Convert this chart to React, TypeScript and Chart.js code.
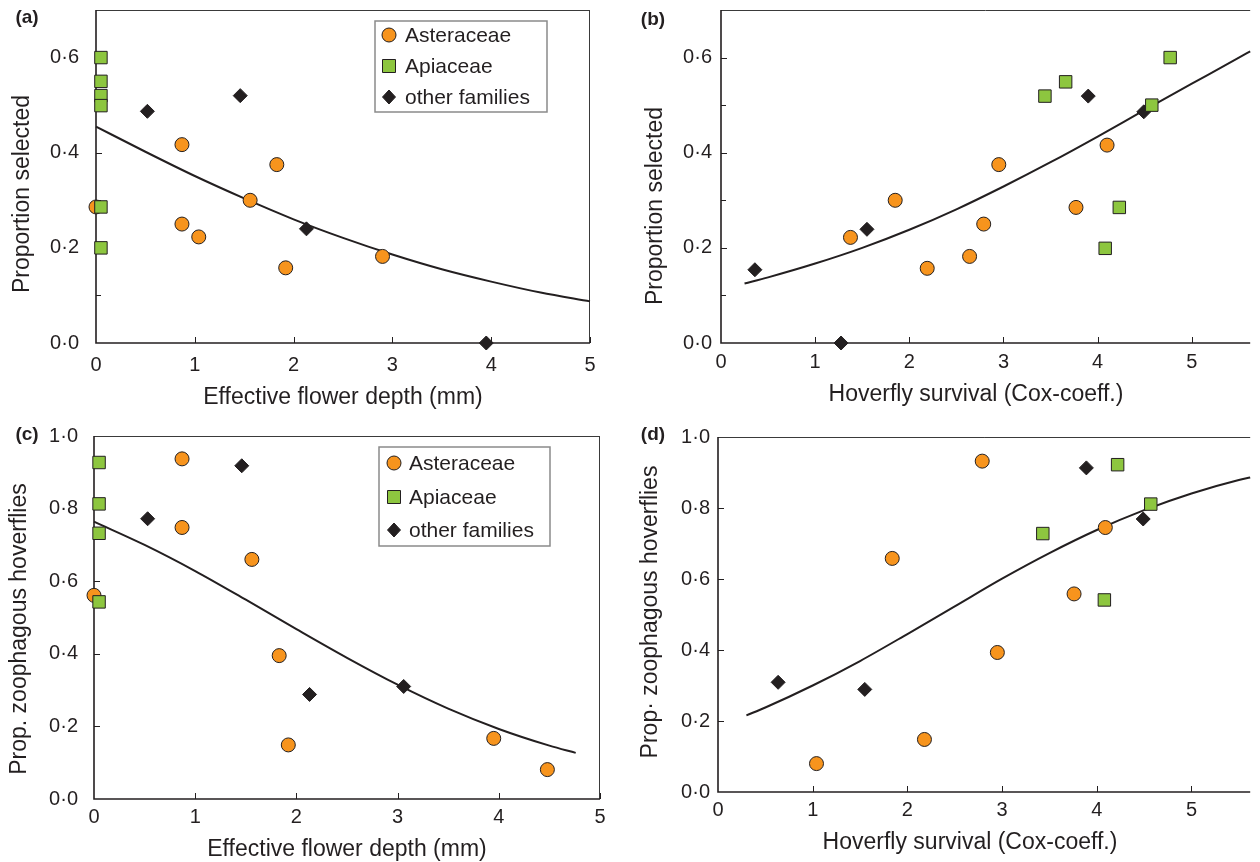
import React, { useEffect, useRef } from 'react';
import { Chart, registerables } from 'chart.js';

Chart.register(...registerables);

const FONT = '"Liberation Sans", Arial, Helvetica, sans-serif';
const INK = '#231f20';
const ORANGE = '#f7941d';
const GREEN = '#8dc63f';

// ---------- Panel (a): proportion selected vs effective flower depth ----------
const aAsterX = [0.0, 0.87, 0.87, 1.04, 1.56, 1.83, 1.92, 2.9];
const aAsterY = [0.286, 0.417, 0.25, 0.223, 0.3, 0.375, 0.158, 0.182];
const aApiX = [0.05, 0.05, 0.05, 0.05, 0.05, 0.05];
const aApiY = [0.6, 0.55, 0.52, 0.499, 0.286, 0.2];
const aOthX = [0.52, 1.46, 2.13, 3.95];
const aOthY = [0.487, 0.52, 0.24, 0.0];
const aFitX = [0, 0.5, 1, 1.5, 2, 2.5, 3, 3.5, 4, 4.5, 5];
const aFitY = [0.455, 0.402, 0.351, 0.304, 0.26, 0.221, 0.186, 0.155, 0.129, 0.106, 0.0875];

// ---------- Panel (b): proportion selected vs hoverfly survival ----------
const bAsterX = [1.375, 1.85, 2.19, 2.64, 2.79, 2.95, 3.77, 4.1];
const bAsterY = [0.222, 0.3, 0.157, 0.182, 0.25, 0.375, 0.285, 0.416];
const bApiX = [3.44, 3.66, 4.575, 4.77, 4.23, 4.08];
const bApiY = [0.519, 0.549, 0.5, 0.6, 0.285, 0.199];
const bOthX = [0.36, 1.275, 1.55, 3.9, 4.49];
const bOthY = [0.154, 0.0, 0.239, 0.519, 0.486];
const bFitX = [0.25, 0.5, 1, 1.5, 2, 2.5, 3, 3.5, 4, 4.5, 5, 5.5, 5.62];
const bFitY = [0.125, 0.138, 0.167, 0.2, 0.238, 0.281, 0.329, 0.38, 0.434, 0.49, 0.545, 0.6, 0.613];

// ---------- Panel (c): prop. zoophagous hoverflies vs flower depth ----------
const cAsterX = [0.0, 0.87, 0.87, 1.56, 1.83, 1.92, 3.95, 4.48];
const cAsterY = [0.561, 0.937, 0.748, 0.66, 0.395, 0.149, 0.167, 0.081];
const cApiX = [0.05, 0.05, 0.05, 0.05];
const cApiY = [0.927, 0.813, 0.732, 0.543];
const cOthX = [0.53, 1.46, 2.13, 3.06];
const cOthY = [0.772, 0.918, 0.288, 0.31];
const cFitX = [0, 0.5, 1, 1.5, 2, 2.5, 3, 3.5, 4, 4.5, 4.76];
const cFitY = [0.764, 0.7, 0.628, 0.549, 0.468, 0.389, 0.315, 0.249, 0.193, 0.147, 0.127];

// ---------- Panel (d): prop. zoophagous hoverflies vs hoverfly survival ----------
const dAsterX = [1.04, 1.84, 2.18, 2.79, 2.95, 3.76, 4.09];
const dAsterY = [0.08, 0.658, 0.148, 0.932, 0.393, 0.558, 0.745];
const dApiX = [3.43, 4.22, 4.57, 4.08];
const dApiY = [0.728, 0.922, 0.811, 0.541];
const dOthX = [0.635, 1.55, 3.89, 4.49];
const dOthY = [0.309, 0.289, 0.913, 0.769];
const dFitX = [0.3, 0.5, 1, 1.5, 2, 2.5, 3, 3.5, 4, 4.5, 5, 5.5, 5.62];
const dFitY = [0.216, 0.238, 0.3, 0.369, 0.445, 0.523, 0.601, 0.673, 0.738, 0.794, 0.841, 0.879, 0.886];

// ---------- ticks & labels ----------
const xTickValues = [0, 1, 2, 3, 4, 5];
const xTickLabels = ['0', '1', '2', '3', '4', '5'];
const yTickValuesTop = [0, 0.2, 0.4, 0.6];
const yTickLabelsTop = ['0·0', '0·2', '0·4', '0·6'];
const yMinorTop = [0.1, 0.3, 0.5];
const yTickValuesBottom = [0, 0.2, 0.4, 0.6, 0.8, 1.0];
const yTickLabelsBottom = ['0·0', '0·2', '0·4', '0·6', '0·8', '1·0'];
const legendLabels = ['Asteraceae', 'Apiaceae', 'other families'];

const pts = (xs: number[], ys: number[]) => xs.map((x, i) => ({ x, y: ys[i] }));

interface LegendCfg {
  box: [number, number, number, number];
  mx: number;
  tx: number;
  rows: number[];
}

interface PanelCfg {
  left: number;
  top: number;
  width: number;
  height: number;
  area: { l: number; t: number; r: number; b: number };
  xMax: number;
  yMax: number;
  aster: [number[], number[]];
  api: [number[], number[]];
  oth: [number[], number[]];
  fit: [number[], number[]];
  yVals: number[];
  yLabels: string[];
  yMinor: number[];
  yTickPad: number;
  xTickPad: number;
  yTitle: string;
  xTitle: string;
  yTitlePos: [number, number];
  xTitlePos: [number, number];
  label: string;
  labelPos: [number, number];
  showRight: boolean;
  legend?: LegendCfg;
}

const panels: PanelCfg[] = [
  {
    left: 0, top: 0, width: 620, height: 420,
    area: { l: 96, t: 10, r: 590, b: 343 },
    xMax: 5, yMax: 0.7,
    aster: [aAsterX, aAsterY], api: [aApiX, aApiY], oth: [aOthX, aOthY], fit: [aFitX, aFitY],
    yVals: yTickValuesTop, yLabels: yTickLabelsTop, yMinor: yMinorTop,
    yTickPad: 17, xTickPad: 10,
    yTitle: 'Proportion selected', xTitle: 'Effective flower depth (mm)',
    yTitlePos: [23, 194], xTitlePos: [343, 398],
    label: '(a)', labelPos: [27, 18], showRight: true,
    legend: { box: [375, 21, 547, 112], mx: 389, tx: 405, rows: [35, 66, 97] },
  },
  {
    left: 620, top: 0, width: 640, height: 420,
    area: { l: 101, t: 10, r: 640, b: 343 },
    xMax: 5.62, yMax: 0.7,
    aster: [bAsterX, bAsterY], api: [bApiX, bApiY], oth: [bOthX, bOthY], fit: [bFitX, bFitY],
    yVals: yTickValuesTop, yLabels: yTickLabelsTop, yMinor: yMinorTop,
    yTickPad: 9, xTickPad: 7,
    yTitle: 'Proportion selected', xTitle: 'Hoverfly survival (Cox-coeff.)',
    yTitlePos: [36, 206], xTitlePos: [356, 395],
    label: '(b)', labelPos: [33, 20], showRight: false,
  },
  {
    left: 0, top: 420, width: 620, height: 442,
    area: { l: 94, t: 16, r: 600, b: 379 },
    xMax: 5, yMax: 1.0,
    aster: [cAsterX, cAsterY], api: [cApiX, cApiY], oth: [cOthX, cOthY], fit: [cFitX, cFitY],
    yVals: yTickValuesBottom, yLabels: yTickLabelsBottom, yMinor: [],
    yTickPad: 16, xTickPad: 6,
    yTitle: 'Prop. zoophagous hoverflies', xTitle: 'Effective flower depth (mm)',
    yTitlePos: [20, 209], xTitlePos: [347, 430],
    label: '(c)', labelPos: [27, 15], showRight: true,
    legend: { box: [379, 27, 550, 126], mx: 394, tx: 409, rows: [43, 77, 110] },
  },
  {
    left: 620, top: 420, width: 640, height: 442,
    area: { l: 98, t: 17, r: 640, b: 372 },
    xMax: 5.62, yMax: 1.0,
    aster: [dAsterX, dAsterY], api: [dApiX, dApiY], oth: [dOthX, dOthY], fit: [dFitX, dFitY],
    yVals: yTickValuesBottom, yLabels: yTickLabelsBottom, yMinor: [],
    yTickPad: 8, xTickPad: 6,
    yTitle: 'Prop· zoophagous hoverflies', xTitle: 'Hoverfly survival (Cox-coeff.)',
    yTitlePos: [31, 192], xTitlePos: [350, 423],
    label: '(d)', labelPos: [33, 15], showRight: false,
  },
];

function drawMarker(ctx: CanvasRenderingContext2D, kind: number, x: number, y: number) {
  ctx.save();
  ctx.lineWidth = 1;
  ctx.strokeStyle = INK;
  ctx.beginPath();
  if (kind === 0) {
    ctx.fillStyle = ORANGE;
    ctx.arc(x, y, 7, 0, Math.PI * 2);
  } else if (kind === 1) {
    ctx.fillStyle = GREEN;
    ctx.rect(x - 6.5, y - 6.5, 13, 13);
  } else {
    ctx.fillStyle = INK;
    ctx.moveTo(x - 6.5, y);
    ctx.lineTo(x, y - 7);
    ctx.lineTo(x + 6.5, y);
    ctx.lineTo(x, y + 7);
    ctx.closePath();
  }
  ctx.fill();
  ctx.stroke();
  ctx.restore();
}

const framePlugin = {
  id: 'frame',
  beforeDatasetsDraw(chart: any, _args: any, opts: any) {
    const cfg: PanelCfg = opts.cfg;
    if (!cfg) return;
    const ctx: CanvasRenderingContext2D = chart.ctx;
    const { left, right, top, bottom } = chart.chartArea;
    const xs = chart.scales.x;
    const ys = chart.scales.y;
    ctx.save();
    // top / right border
    ctx.strokeStyle = '#3a3a3a';
    ctx.lineWidth = 1;
    ctx.beginPath();
    ctx.moveTo(left, top + 0.5);
    ctx.lineTo(right, top + 0.5);
    if (cfg.showRight) {
      ctx.moveTo(right - 0.5, top);
      ctx.lineTo(right - 0.5, bottom);
    }
    ctx.stroke();
    // ticks (inside)
    ctx.strokeStyle = INK;
    ctx.lineWidth = 1;
    ctx.beginPath();
    xTickValues.forEach((v) => {
      if (v <= 0) return;
      const px = Math.round(xs.getPixelForValue(v)) + 0.5;
      ctx.moveTo(px, bottom);
      ctx.lineTo(px, bottom - 6);
    });
    cfg.yVals.forEach((v) => {
      if (v <= 0 || v >= cfg.yMax) return;
      const py = Math.round(ys.getPixelForValue(v)) + 0.5;
      ctx.moveTo(left, py);
      ctx.lineTo(left + 6, py);
    });
    cfg.yMinor.forEach((v) => {
      const py = Math.round(ys.getPixelForValue(v)) + 0.5;
      ctx.moveTo(left, py);
      ctx.lineTo(left + 5, py);
    });
    ctx.stroke();
    // main axes
    ctx.strokeStyle = INK;
    ctx.lineWidth = 1.6;
    ctx.beginPath();
    ctx.moveTo(left, top);
    ctx.lineTo(left, bottom);
    ctx.lineTo(right, bottom);
    ctx.stroke();
    ctx.restore();
  },
  afterDraw(chart: any, _args: any, opts: any) {
    const cfg: PanelCfg = opts.cfg;
    if (!cfg) return;
    const ctx: CanvasRenderingContext2D = chart.ctx;
    ctx.save();
    ctx.fillStyle = INK;
    ctx.textBaseline = 'middle';
    // panel label
    ctx.font = `bold 19px ${FONT}`;
    ctx.textAlign = 'center';
    ctx.fillText(cfg.label, cfg.labelPos[0], cfg.labelPos[1]);
    // axis titles
    ctx.font = `23px ${FONT}`;
    ctx.fillText(cfg.xTitle, cfg.xTitlePos[0], cfg.xTitlePos[1]);
    ctx.save();
    ctx.translate(cfg.yTitlePos[0], cfg.yTitlePos[1]);
    ctx.rotate(-Math.PI / 2);
    ctx.fillText(cfg.yTitle, 0, 0);
    ctx.restore();
    // legend
    if (cfg.legend) {
      const lg = cfg.legend;
      ctx.fillStyle = '#ffffff';
      ctx.fillRect(lg.box[0], lg.box[1], lg.box[2] - lg.box[0], lg.box[3] - lg.box[1]);
      ctx.strokeStyle = '#8a8a8a';
      ctx.lineWidth = 1.5;
      ctx.strokeRect(lg.box[0], lg.box[1], lg.box[2] - lg.box[0], lg.box[3] - lg.box[1]);
      ctx.font = `21px ${FONT}`;
      ctx.textAlign = 'left';
      legendLabels.forEach((txt, i) => {
        drawMarker(ctx, i, lg.mx, lg.rows[i]);
        ctx.fillStyle = INK;
        ctx.fillText(txt, lg.tx, lg.rows[i] + 1);
      });
    }
    ctx.restore();
  },
};

function Panel({ cfg }: { cfg: PanelCfg }) {
  const ref = useRef<HTMLCanvasElement | null>(null);
  useEffect(() => {
    if (!ref.current) return;
    const { area } = cfg;
    const chart = new Chart(ref.current, {
      type: 'scatter',
      data: {
        datasets: [
          {
            label: legendLabels[1],
            data: pts(cfg.api[0], cfg.api[1]),
            pointStyle: 'rect',
            pointRadius: 8.8,
            backgroundColor: GREEN,
            borderColor: INK,
            borderWidth: 1,
            order: 0,
            clip: false,
          },
          {
            label: legendLabels[0],
            data: pts(cfg.aster[0], cfg.aster[1]),
            pointStyle: 'circle',
            pointRadius: 7,
            backgroundColor: ORANGE,
            borderColor: INK,
            borderWidth: 1,
            order: 1,
            clip: false,
          },
          {
            label: legendLabels[2],
            data: pts(cfg.oth[0], cfg.oth[1]),
            pointStyle: 'rectRot',
            pointRadius: 7,
            backgroundColor: INK,
            borderColor: INK,
            borderWidth: 1,
            order: 2,
            clip: false,
          },
          {
            label: 'fitted',
            data: pts(cfg.fit[0], cfg.fit[1]),
            showLine: true,
            pointRadius: 0,
            borderColor: INK,
            borderWidth: 2,
            cubicInterpolationMode: 'monotone',
            order: 3,
            clip: false,
          } as any,
        ],
      },
      options: {
        animation: false,
        responsive: false,
        maintainAspectRatio: false,
        events: [],
        layout: { padding: { left: 0, top: area.t, right: cfg.width - area.r, bottom: 0 } },
        plugins: {
          legend: { display: false },
          tooltip: { enabled: false },
          frame: { cfg },
        } as any,
        scales: {
          x: {
            type: 'linear',
            min: 0,
            max: cfg.xMax,
            grid: { display: false, drawTicks: false },
            border: { display: false },
            afterBuildTicks: (s: any) => {
              s.ticks = xTickValues.map((v) => ({ value: v }));
            },
            afterFit: (s: any) => {
              s.height = cfg.height - area.b;
              s.paddingLeft = 0;
              s.paddingRight = 0;
              s.paddingTop = 0;
              s.paddingBottom = 0;
            },
            ticks: {
              autoSkip: false,
              maxRotation: 0,
              padding: cfg.xTickPad,
              color: INK,
              font: { family: FONT, size: 20 },
              callback: (_v: any, i: number) => xTickLabels[i],
            },
          },
          y: {
            type: 'linear',
            min: 0,
            max: cfg.yMax,
            grid: { display: false, drawTicks: false },
            border: { display: false },
            afterBuildTicks: (s: any) => {
              s.ticks = cfg.yVals.map((v) => ({ value: v }));
            },
            afterFit: (s: any) => {
              s.width = area.l;
              s.paddingLeft = 0;
              s.paddingRight = 0;
              s.paddingTop = 0;
              s.paddingBottom = 0;
            },
            ticks: {
              autoSkip: false,
              padding: cfg.yTickPad,
              color: INK,
              font: { family: FONT, size: 20 },
              callback: (_v: any, i: number) => cfg.yLabels[i],
            },
          },
        },
      },
      plugins: [framePlugin],
    });
    return () => chart.destroy();
  }, [cfg]);
  return (
    <canvas
      ref={ref}
      width={cfg.width}
      height={cfg.height}
      style={{ position: 'absolute', left: cfg.left, top: cfg.top, width: cfg.width, height: cfg.height }}
    />
  );
}

export default function App() {
  return (
    <div
      style={{
        position: 'fixed',
        left: 0,
        top: 0,
        width: 1260,
        height: 862,
        background: '#ffffff',
        overflow: 'hidden',
      }}
    >
      {panels.map((p, i) => (
        <Panel key={i} cfg={p} />
      ))}
    </div>
  );
}
